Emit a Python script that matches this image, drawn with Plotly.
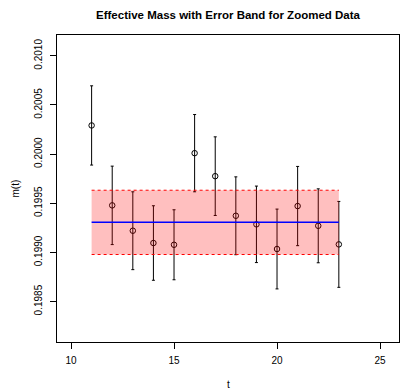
import plotly.graph_objects as go

t_vals = [11, 12, 13, 14, 15, 16, 17, 18, 19, 20, 21, 22, 23]
m_vals = [0.200292, 0.199479, 0.199221, 0.199096, 0.199078, 0.200010, 0.199776,
          0.199373, 0.199286, 0.199035, 0.199472, 0.199271, 0.199082]
m_err = [0.000403, 0.000399, 0.000396, 0.000379, 0.000356, 0.000393, 0.000400,
         0.000396, 0.000389, 0.000406, 0.000403, 0.000376, 0.000437]
band_mean = 0.199306
band_half = 0.000327
x_ticks = [10, 15, 20, 25]
y_ticks = [0.1985, 0.1990, 0.1995, 0.2000, 0.2005, 0.2010]

FONT = "Liberation Sans, Arial, Helvetica, sans-serif"

fig = go.Figure()

# points with error bars
fig.add_trace(go.Scatter(
    x=t_vals, y=m_vals, mode="markers",
    marker=dict(symbol="circle-open", size=5.5, color="black", line=dict(width=1, color="black")),
    error_y=dict(type="data", array=m_err, visible=True, color="black", thickness=1, width=1.5),
    showlegend=False, hoverinfo="skip",
))

t0, t1 = t_vals[0], t_vals[-1]
lo = band_mean - band_half
hi = band_mean + band_half

# error band (semi-transparent, drawn over points)
fig.add_trace(go.Scatter(
    x=[t0, t1, t1, t0, t0], y=[lo, lo, hi, hi, lo],
    mode="lines", fill="toself", fillcolor="rgba(255,0,0,0.25)",
    line=dict(width=0), showlegend=False, hoverinfo="skip",
))
# dashed band borders
for yy in (lo, hi):
    fig.add_trace(go.Scatter(
        x=[t0, t1], y=[yy, yy], mode="lines",
        line=dict(color="red", width=1, dash="dot"),
        showlegend=False, hoverinfo="skip",
    ))
# mean line
fig.add_trace(go.Scatter(
    x=[t0, t1], y=[band_mean, band_mean], mode="lines",
    line=dict(color="blue", width=1.5),
    showlegend=False, hoverinfo="skip",
))

fig.update_layout(
    width=401, height=390,
    margin=dict(l=57, r=2, t=35, b=48),
    paper_bgcolor="white", plot_bgcolor="white",
    font=dict(family=FONT, size=10, color="black"),
    title=dict(text="<b>Effective Mass with Error Band for Zoomed Data</b>",
               xref="paper", x=0.5, xanchor="center",
               yref="container", y=1 - 15 / 390, yanchor="middle",
               font=dict(family=FONT, size=11.5, color="black")),
    xaxis=dict(range=[9.32, 25.92], tickvals=x_ticks, ticktext=[str(v) for v in x_ticks],
               showgrid=False, zeroline=False, showline=True, mirror=True,
               linecolor="black", linewidth=1, ticks="outside", ticklen=6,
               tickcolor="black", tickfont=dict(size=10), ticklabelstandoff=3),
    yaxis=dict(range=[0.198089, 0.201212], tickvals=y_ticks,
               ticktext=[f"{v:.4f}" for v in y_ticks], tickangle=-90,
               showgrid=False, zeroline=False, showline=True, mirror=True,
               linecolor="black", linewidth=1, ticks="outside", ticklen=6,
               tickcolor="black", tickfont=dict(size=10), ticklabelstandoff=4),
    annotations=[
        dict(text="t", xref="paper", yref="paper", x=0.5, y=0, xanchor="center",
             yanchor="middle", yshift=-42, showarrow=False, font=dict(size=10)),
        dict(text="m(t)", xref="paper", yref="paper", x=0, y=0.5, xanchor="center",
             yanchor="middle", xshift=-42, textangle=-90, showarrow=False, font=dict(size=10)),
    ],
)

fig.write_html("out.html", config={"displayModeBar": False},
               post_script="document.body.style.margin='0';document.body.style.padding='0';")
